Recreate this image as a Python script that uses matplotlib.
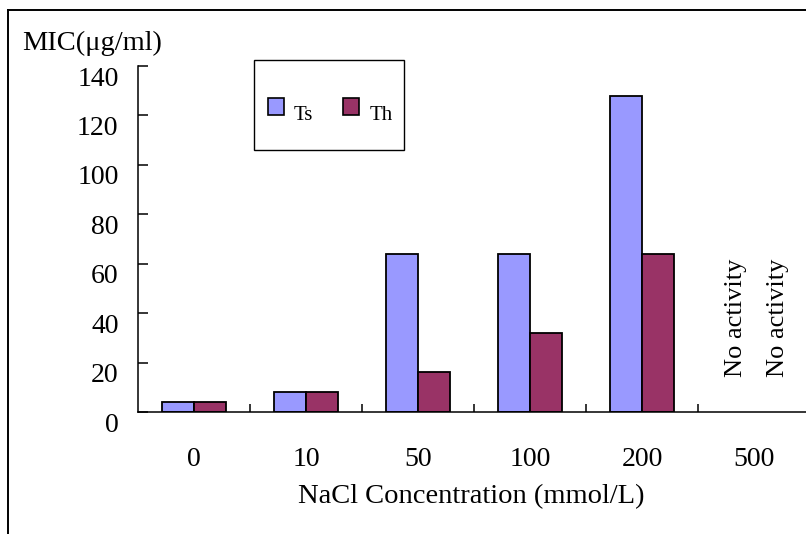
import matplotlib
matplotlib.use('Agg')
import matplotlib.pyplot as plt
import matplotlib.transforms as mtransforms
from matplotlib.patches import Rectangle
from matplotlib.lines import Line2D

plt.rcParams['font.family'] = ['Liberation Serif', 'DejaVu Serif']

# data
concentrations = ['0', '10', '50', '100', '200', '500']
ts_mic = [4, 8, 64, 64, 128, None]
th_mic = [4, 8, 16, 32, 64, None]
series_names = ['Ts', 'Th']
no_activity_label = 'No activity'

ts_color = '#9999ff'
th_color = '#993366'

W, H = 806, 534
fig = plt.figure(figsize=(W / 100, H / 100), dpi=100)


def fx(px):
    return px / W


def fy(py):
    return 1 - py / H


# outer chart frame (only left and top edges are visible in the crop)
fig.add_artist(Line2D([fx(8), fx(8)], [fy(10), 0], color='black', lw=1.4))
fig.add_artist(Line2D([fx(8), 1.0], [fy(10), fy(10)], color='black', lw=1.4))

# plot area: y axis at x=138, baseline at y=412, 140 at y=66, 112 px per category
ax = fig.add_axes([fx(138), fy(412), (810 - 138) / W, (412 - 66) / H])
ax.set_xlim(-0.5, len(concentrations) - 0.5)
ax.set_ylim(0, 140)

bw = 0.2857
x = list(range(len(concentrations)))
for i in x:
    if ts_mic[i] is not None:
        ax.bar(i - bw / 2, ts_mic[i], width=bw, color=ts_color, edgecolor='black', linewidth=1.3)
        ax.bar(i + bw / 2, th_mic[i], width=bw, color=th_color, edgecolor='black', linewidth=1.3)
    else:
        for off in (-0.16, 0.21):
            ax.text(i + off, 14, no_activity_label, rotation=90, ha='center', va='bottom',
                    fontsize=19)

for side in ('top', 'right'):
    ax.spines[side].set_visible(False)
for side in ('left', 'bottom'):
    ax.spines[side].set_linewidth(1.1)

# category labels at centres, ticks between categories pointing up
ax.set_xticks(x)
ax.set_xticklabels(concentrations, fontsize=20)
ax.tick_params(axis='x', which='major', length=0, pad=25)
ax.set_xticks([i + 0.5 for i in x[:-1]], minor=True)
ax.tick_params(axis='x', which='minor', direction='in', length=6, width=1.1)

ax.set_yticks(range(0, 141, 20))
ax.tick_params(axis='y', direction='in', length=7, width=1.1, pad=14, labelsize=20)
offset = mtransforms.ScaledTranslation(0, -10 / 100, fig.dpi_scale_trans)
for lab in ax.get_yticklabels():
    lab.set_transform(lab.get_transform() + offset)

fig.text(fx(471), fy(497), 'NaCl Concentration (mmol/L)', ha='center', va='center', fontsize=20.5)
fig.text(fx(22), fy(43), 'MIC(\u03bcg/ml)', ha='left', va='center', fontsize=20.5)

# legend box drawn by hand to match the original layout
fig.add_artist(Rectangle((fx(254), fy(150)), fx(150), (150 - 60) / H, transform=fig.transFigure,
                         facecolor='white', edgecolor='black', lw=1.0))
legend_items = [(series_names[0], ts_color, 268, 294), (series_names[1], th_color, 343, 370)]
for name, col, px, tx in legend_items:
    fig.add_artist(Rectangle((fx(px), fy(115)), fx(16), 17 / H, transform=fig.transFigure,
                             facecolor=col, edgecolor='black', lw=1.2))
    fig.text(fx(tx), fy(120), name, ha='left', va='baseline', fontsize=15)

fig.savefig('out.png', dpi=100)
